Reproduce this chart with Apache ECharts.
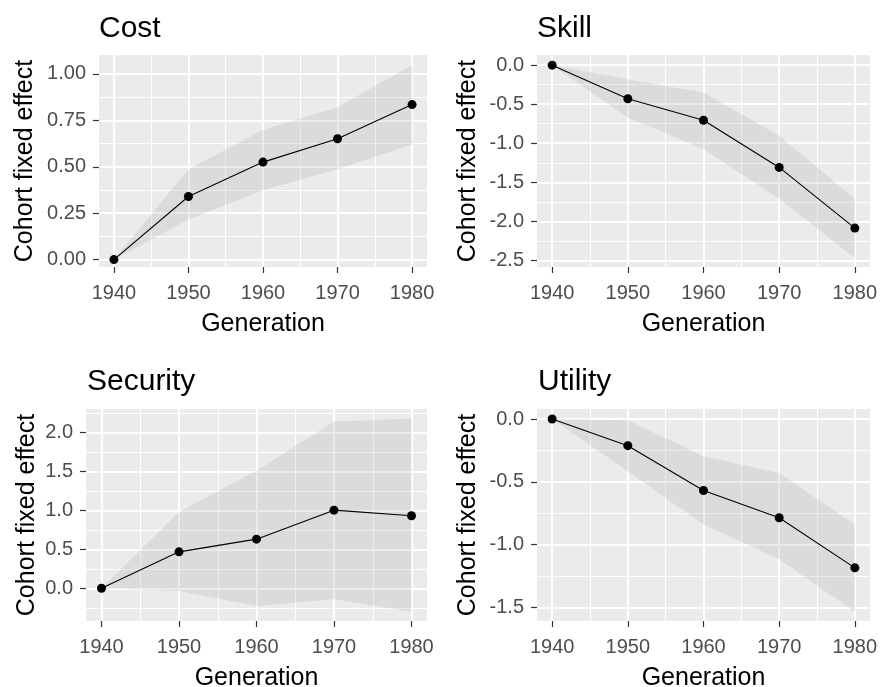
<!DOCTYPE html>
<html><head><meta charset="utf-8">
<script src="https://cdn.jsdelivr.net/npm/echarts@6/dist/echarts.min.js"></script>
<style>html,body{margin:0;padding:0;background:#fff}#c{width:884px;height:687px}</style>
</head><body><div id="c"></div>
<script>
// ---- data ----
const years = [1940, 1950, 1960, 1970, 1980];
const xTicks = [1940, 1950, 1960, 1970, 1980];
const xMinor = [1945, 1955, 1965, 1975];

const costEst = [0, 0.34, 0.525, 0.651, 0.835];
const costLo  = [0, 0.216, 0.374, 0.486, 0.62];
const costHi  = [0, 0.486, 0.70, 0.82, 1.048];
const costTicks = [0, 0.25, 0.5, 0.75, 1.0];
const costMinor = [0.125, 0.375, 0.625, 0.875];
const costRange = [-0.04, 1.102];

const skillEst = [0, -0.43, -0.705, -1.31, -2.087];
const skillLo  = [0, -0.67, -1.075, -1.71, -2.47];
const skillHi  = [0, -0.18, -0.35, -0.905, -1.71];
const skillTicks = [0, -0.5, -1.0, -1.5, -2.0, -2.5];
const skillMinor = [-0.25, -0.75, -1.25, -1.75, -2.25];
const skillRange = [-2.585, 0.13];

const secEst = [0, 0.467, 0.63, 1.002, 0.93];
const secLo  = [0, -0.034, -0.227, -0.14, -0.30];
const secHi  = [0, 0.98, 1.507, 2.14, 2.176];
const secTicks = [0, 0.5, 1.0, 1.5, 2.0];
const secMinor = [-0.25, 0.25, 0.75, 1.25, 1.75, 2.25];
const secRange = [-0.42, 2.30];

const utilEst = [0, -0.212, -0.569, -0.786, -1.185];
const utilLo  = [0, -0.415, -0.84, -1.116, -1.535];
const utilHi  = [0, -0.01, -0.296, -0.43, -0.84];
const utilTicks = [0, -0.5, -1.0, -1.5];
const utilMinor = [-0.25, -0.75, -1.25];
const utilRange = [-1.608, 0.08];

const titles = ['Cost', 'Skill', 'Security', 'Utility'];
const xName = 'Generation';
const yName = 'Cohort fixed effect';

// ---- layout / style ----
const FONT = 'Liberation Sans, Arial, sans-serif';
const panels = [
  {est: costEst, lo: costLo, hi: costHi, ticks: costTicks, minor: costMinor, range: costRange, dec: 2,
   grid: {left: 99, top: 55, width: 328, height: 212}, title: [99, 14], yGap: 61},
  {est: skillEst, lo: skillLo, hi: skillHi, ticks: skillTicks, minor: skillMinor, range: skillRange, dec: 1,
   grid: {left: 537, top: 55, width: 333, height: 212}, title: [537, 14], yGap: 56},
  {est: secEst, lo: secLo, hi: secHi, ticks: secTicks, minor: secMinor, range: secRange, dec: 1,
   grid: {left: 86, top: 409, width: 341, height: 212}, title: [87, 367], yGap: 46},
  {est: utilEst, lo: utilLo, hi: utilHi, ticks: utilTicks, minor: utilMinor, range: utilRange, dec: 1,
   grid: {left: 537, top: 409, width: 333, height: 212}, title: [538, 367], yGap: 56}
];

const xMin = years[0] - 0.05 * (years[years.length - 1] - years[0]);
const xMax = years[years.length - 1] + 0.05 * (years[years.length - 1] - years[0]);

const option = {
  animation: false,
  backgroundColor: '#ffffff',
  title: [], grid: [], xAxis: [], yAxis: [], series: []
};

panels.forEach((p, i) => {
  const yMin = p.range[0], yMax = p.range[1];

  option.title.push({
    text: titles[i], left: p.title[0], top: p.title[1], padding: 0,
    textStyle: {fontFamily: FONT, fontSize: 30, fontWeight: 'normal', color: '#000'}
  });
  option.grid.push(Object.assign({backgroundColor: '#EBEBEB', show: true, borderWidth: 0,
    containLabel: false, outerBoundsMode: 'none'}, p.grid));

  // major x axis
  option.xAxis.push({
    type: 'value', gridIndex: i, min: xMin, max: xMax, position: 'bottom',
    name: xName, nameLocation: 'middle', nameGap: 45,
    nameTextStyle: {fontFamily: FONT, fontSize: 25, color: '#000'},
    axisLine: {show: false, onZero: false},
    axisTick: {show: true, length: 6, customValues: xTicks, lineStyle: {color: '#333333', width: 1.2}},
    axisLabel: {show: true, customValues: xTicks, margin: 16, fontFamily: FONT, fontSize: 20, color: '#4D4D4D',
      formatter: v => String(v)},
    splitLine: {show: true, lineStyle: {color: '#ffffff', width: 2}}
  });
  // minor x axis (grid lines only)
  option.xAxis.push({
    type: 'value', gridIndex: i, min: xMin, max: xMax, position: 'top',
    axisLine: {show: false, onZero: false}, axisTick: {show: false, customValues: xMinor},
    axisLabel: {show: false, customValues: xMinor},
    splitLine: {show: true, lineStyle: {color: '#ffffff', width: 1}}
  });
  // major y axis
  option.yAxis.push({
    type: 'value', gridIndex: i, min: yMin, max: yMax, position: 'left',
    name: yName, nameLocation: 'middle', nameGap: p.yGap,
    nameTextStyle: {fontFamily: FONT, fontSize: 25, color: '#000'},
    axisLine: {show: false, onZero: false},
    axisTick: {show: true, length: 6, customValues: p.ticks, lineStyle: {color: '#333333', width: 1.2}},
    axisLabel: {show: true, customValues: p.ticks, margin: 13, fontFamily: FONT, fontSize: 20, color: '#4D4D4D',
      formatter: v => Number(v).toFixed(p.dec)},
    splitLine: {show: true, lineStyle: {color: '#ffffff', width: 2}}
  });
  // minor y axis
  option.yAxis.push({
    type: 'value', gridIndex: i, min: yMin, max: yMax, position: 'right',
    axisLine: {show: false, onZero: false}, axisTick: {show: false, customValues: p.minor},
    axisLabel: {show: false, customValues: p.minor},
    splitLine: {show: true, lineStyle: {color: '#ffffff', width: 1}}
  });

  const ribbon = years.map((y, k) => [y, p.lo[k], p.hi[k]]);
  option.series.push({
    type: 'custom', xAxisIndex: 2 * i, yAxisIndex: 2 * i,
    data: ribbon, encode: {x: 0, y: [1, 2]}, silent: true, z: 1,
    renderItem: function (params, api) {
      if (params.dataIndex !== 0) return null;
      const pts = [];
      for (let k = 0; k < ribbon.length; k++) pts.push(api.coord([ribbon[k][0], ribbon[k][2]]));
      for (let k = ribbon.length - 1; k >= 0; k--) pts.push(api.coord([ribbon[k][0], ribbon[k][1]]));
      return {type: 'polygon', shape: {points: pts}, style: {fill: 'rgba(153,153,153,0.2)', stroke: null}};
    }
  });
  option.series.push({
    type: 'line', xAxisIndex: 2 * i, yAxisIndex: 2 * i, z: 3,
    data: years.map((y, k) => [y, p.est[k]]),
    symbol: 'circle', symbolSize: 9, showSymbol: true,
    lineStyle: {color: '#000', width: 1.1},
    itemStyle: {color: '#000'}
  });
});

const chart = echarts.init(document.getElementById('c'), null, {renderer: 'canvas'});
chart.setOption(option);
</script>
</body></html>
